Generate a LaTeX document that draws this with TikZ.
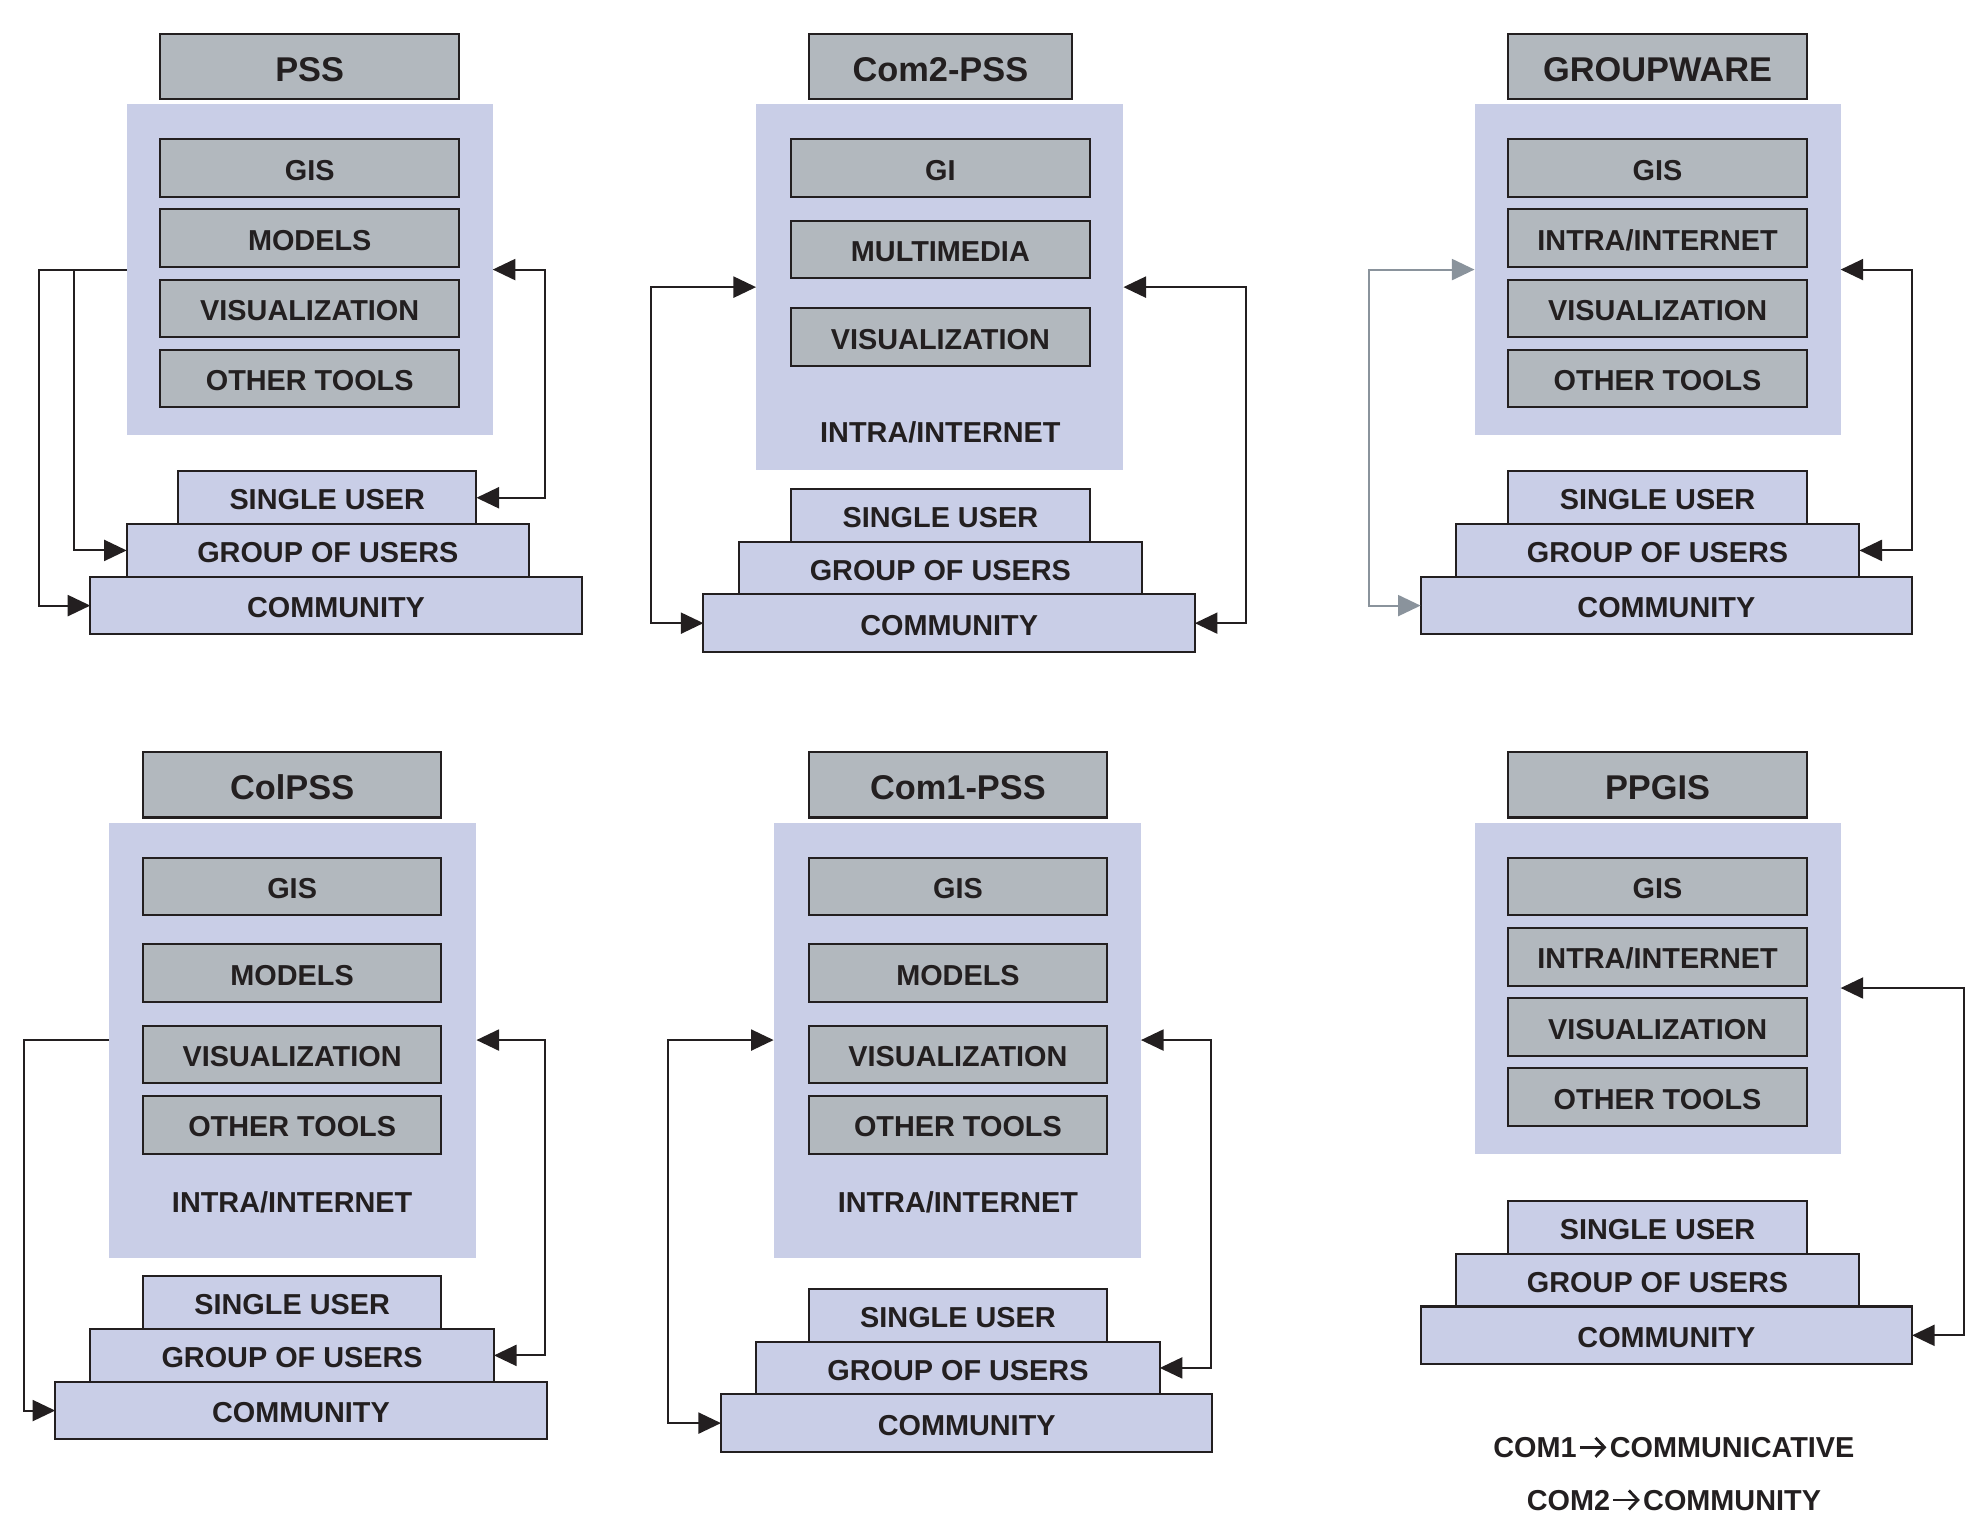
\documentclass[tikz,border=0pt]{standalone}
\usepackage{fontspec}
\setmainfont{Liberation Sans}
\usetikzlibrary{arrows.meta,calc}
\definecolor{boxgray}{HTML}{B2B8BE}
\definecolor{lav}{HTML}{C9CEE7}
\definecolor{ink}{HTML}{231F20}
\definecolor{arrgray}{HTML}{8A939C}
\newcommand\mkbox[7]{\node[#2, minimum width={(#5-#3)*0.5pt}, minimum height={(#6-#4)*0.5pt}] (#1) at ({(#3+#5)/2},{(#4+#6)/2}) {#7};}
\newcommand\legarrow{\hspace{0.8pt}\tikz[baseline={(0pt,-4.2pt)}, x=1pt, y=1pt]\draw[ink, line width=1.1pt, -{Straight Barb[length=3.6pt,width=7.6pt]}] (0pt,0pt) -- (10.5pt,0pt);\hspace{0.8pt}}
\begin{document}
\begin{tikzpicture}[x=0.5pt,y=-0.5pt,
  base/.style={inner sep=0pt, outer sep=0pt, text=ink, text height=9.7pt, text depth=0pt, font=\bfseries\fontsize{11.5}{13}\selectfont},
  gbox/.style={base, draw=ink, line width=0.8pt, fill=boxgray},
  tbox/.style={gbox, text height=11.8pt, font=\bfseries\fontsize{13.7}{16}\selectfont},
  cont/.style={base, fill=lav},
  lbox/.style={base, draw=ink, line width=0.8pt, fill=lav},
  lbl/.style={base},
  conn/.style={draw=ink, line width=0.8pt},
  tipx/.tip={Triangle[length=9pt,width=8.4pt]},
  one/.style={conn, -tipx},
  two/.style={conn, tipx-tipx},
  gtwo/.style={two, draw=arrgray}
]
\useasboundingbox (0,0) rectangle (1568,1214);

% ---------- Panel 1: PSS ----------
\mkbox{t1}{tbox}{128}{27}{366}{79}{PSS}
\mkbox{c1}{cont}{101}{83}{393}{347}{}
\mkbox{a1}{gbox}{128}{111}{366}{157}{GIS}
\mkbox{b1}{gbox}{128}{167}{366}{213}{MODELS}
\mkbox{v1}{gbox}{128}{223}{366}{269}{VISUALIZATION}
\mkbox{o1}{gbox}{128}{279}{366}{325}{OTHER TOOLS}
\mkbox{s1}{lbox}{142}{376}{380}{418}{SINGLE USER}
\mkbox{g1}{lbox}{101}{418}{422}{460}{GROUP OF USERS}
\mkbox{m1}{lbox}{72}{460}{464}{506}{COMMUNITY}
\draw[one] (c1.west) -- ++(-70,0) |- (m1.west);
\coordinate (j1) at ($(c1.west)+(-42,0)$);
\draw[one] (j1) |- (g1.west);
\draw[two] (c1.east) -- ++(42,0) |- (s1.east);

% ---------- Panel 2: Com2-PSS ----------
\mkbox{t2}{tbox}{645}{27}{855}{79}{Com2-PSS}
\mkbox{c2}{cont}{603}{83}{896}{375}{}
\mkbox{a2}{gbox}{631}{111}{869}{157}{GI}
\mkbox{b2}{gbox}{631}{176}{869}{222}{MULTIMEDIA}
\mkbox{v2}{gbox}{631}{246}{869}{292}{VISUALIZATION}
\node[lbl] (n2) at (750,343) {INTRA/INTERNET};
\mkbox{s2}{lbox}{631}{390}{869}{432}{SINGLE USER}
\mkbox{g2}{lbox}{589}{432}{911}{474}{GROUP OF USERS}
\mkbox{m2}{lbox}{561}{474}{953}{520}{COMMUNITY}
\draw[two] (c2.west) -- ++(-84,0) |- (m2.west);
\draw[two] (c2.east) -- ++(98,0) |- (m2.east);

% ---------- Panel 3: GROUPWARE ----------
\mkbox{t3}{tbox}{1203}{27}{1441}{79}{GROUPWARE}
\mkbox{c3}{cont}{1176}{83}{1468}{347}{}
\mkbox{a3}{gbox}{1203}{111}{1441}{157}{GIS}
\mkbox{b3}{gbox}{1203}{167}{1441}{213}{INTRA/INTERNET}
\mkbox{v3}{gbox}{1203}{223}{1441}{269}{VISUALIZATION}
\mkbox{o3}{gbox}{1203}{279}{1441}{325}{OTHER TOOLS}
\mkbox{s3}{lbox}{1203}{376}{1441}{418}{SINGLE USER}
\mkbox{g3}{lbox}{1161}{418}{1483}{460}{GROUP OF USERS}
\mkbox{m3}{lbox}{1133}{460}{1525}{506}{COMMUNITY}
\draw[gtwo] (c3.west) -- ++(-84,0) |- (m3.west);
\draw[two] (c3.east) -- ++(57,0) |- (g3.east);

% ---------- Panel 4: ColPSS ----------
\mkbox{t4}{tbox}{114}{600}{352}{652}{ColPSS}
\mkbox{c4}{cont}{87}{656}{380}{1003}{}
\mkbox{a4}{gbox}{114}{684}{352}{730}{GIS}
\mkbox{b4}{gbox}{114}{753}{352}{799}{MODELS}
\mkbox{v4}{gbox}{114}{818}{352}{864}{VISUALIZATION}
\mkbox{o4}{gbox}{114}{874}{352}{920}{OTHER TOOLS}
\node[lbl] (n4) at (233,957) {INTRA/INTERNET};
\mkbox{s4}{lbox}{114}{1018}{352}{1060}{SINGLE USER}
\mkbox{g4}{lbox}{72}{1060}{394}{1102}{GROUP OF USERS}
\mkbox{m4}{lbox}{44}{1102}{436}{1148}{COMMUNITY}
\draw[one] (c4.west) -- ++(-68,0) |- (m4.west);
\draw[two] (c4.east) -- ++(55,0) |- (g4.east);

% ---------- Panel 5: Com1-PSS ----------
\mkbox{t5}{tbox}{645}{600}{883}{652}{Com1-PSS}
\mkbox{c5}{cont}{617}{656}{910}{1003}{}
\mkbox{a5}{gbox}{645}{684}{883}{730}{GIS}
\mkbox{b5}{gbox}{645}{753}{883}{799}{MODELS}
\mkbox{v5}{gbox}{645}{818}{883}{864}{VISUALIZATION}
\mkbox{o5}{gbox}{645}{874}{883}{920}{OTHER TOOLS}
\node[lbl] (n5) at (764,957) {INTRA/INTERNET};
\mkbox{s5}{lbox}{645}{1028}{883}{1070}{SINGLE USER}
\mkbox{g5}{lbox}{603}{1070}{925}{1112}{GROUP OF USERS}
\mkbox{m5}{lbox}{575}{1112}{967}{1158}{COMMUNITY}
\draw[two] (c5.west) -- ++(-84,0) |- (m5.west);
\draw[two] (c5.east) -- ++(56,0) |- (g5.east);

% ---------- Panel 6: PPGIS ----------
\mkbox{t6}{tbox}{1203}{600}{1441}{652}{PPGIS}
\mkbox{c6}{cont}{1176}{656}{1468}{920}{}
\mkbox{a6}{gbox}{1203}{684}{1441}{730}{GIS}
\mkbox{b6}{gbox}{1203}{740}{1441}{786}{INTRA/INTERNET}
\mkbox{v6}{gbox}{1203}{796}{1441}{842}{VISUALIZATION}
\mkbox{o6}{gbox}{1203}{852}{1441}{898}{OTHER TOOLS}
\mkbox{s6}{lbox}{1203}{958}{1441}{1000}{SINGLE USER}
\mkbox{g6}{lbox}{1161}{1000}{1483}{1042}{GROUP OF USERS}
\mkbox{m6}{lbox}{1133}{1042}{1525}{1088}{COMMUNITY}
\draw[two] (c6.east) -- ++(98,0) |- (m6.east);

% ---------- Legend ----------
\node[lbl, font=\bfseries\fontsize{11.5}{14}\selectfont] (leg1) at (1335,1153) {COM1\legarrow COMMUNICATIVE};
\node[lbl, font=\bfseries\fontsize{11.5}{14}\selectfont] (leg2) at (1335,1195) {COM2\legarrow COMMUNITY};
\end{tikzpicture}
\end{document}
